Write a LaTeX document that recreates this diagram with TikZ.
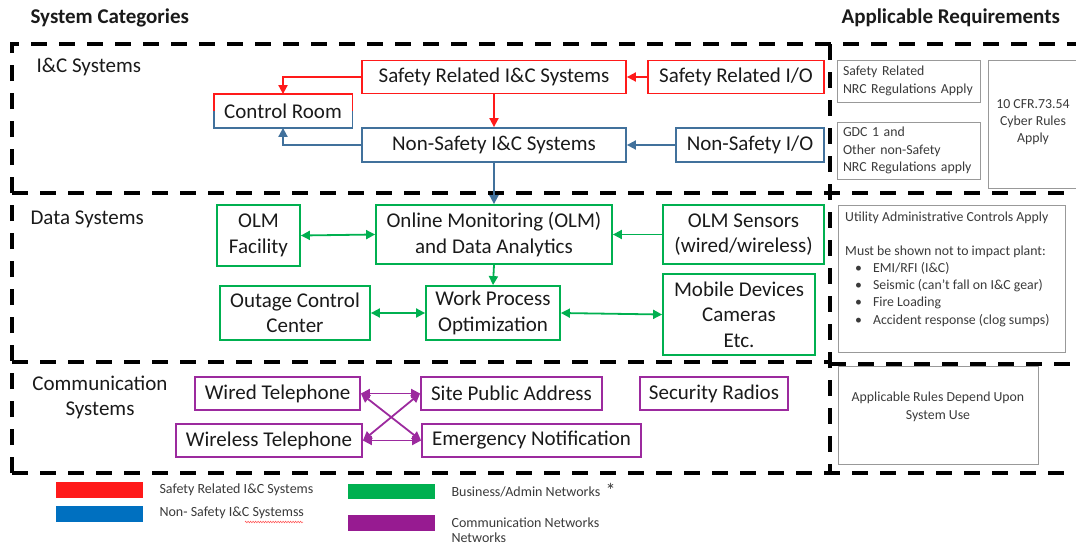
\documentclass[tikz,border=0pt]{standalone}
\usepackage{fontspec}
\setmainfont{Carlito}
\usetikzlibrary{arrows.meta,decorations.pathmorphing}
\definecolor{sred}{HTML}{FF1A1A}
\definecolor{nsblue}{HTML}{41719C}
\definecolor{bgreen}{HTML}{00B050}
\definecolor{cpurple}{HTML}{9C2A9E}
\definecolor{legblue}{HTML}{0070C0}
\definecolor{legpurple}{HTML}{971B91}
\definecolor{txt}{HTML}{1A1A1A}
\definecolor{softtxt}{HTML}{3A3A3A}
\tikzset{
  sysbox/.style={draw, line width=1.8pt, inner sep=0pt, align=center,
    text=txt, font=\fontsize{21}{25.5}\selectfont},
  redbox/.style={sysbox, draw=sred},
  bluebox/.style={sysbox, draw=nsblue},
  greenbox/.style={sysbox, draw=bgreen},
  purplebox/.style={sysbox, draw=cpurple},
  reqbox/.style={draw=gray!80, line width=0.9pt, inner sep=0pt, text=softtxt,
    font=\fontsize{13.8}{17.3}\selectfont},
  reqtext/.style={inner sep=0pt, text=softtxt, font=\fontsize{13.8}{17.3}\selectfont},
  frame/.style={line width=3.8pt, dash pattern=on 16pt off 12pt},
  link/.style={line width=1.8pt, -{Triangle[length=9pt,width=9pt]}},
  dlink/.style={line width=1.8pt, {Triangle[length=9pt,width=9pt]}-{Triangle[length=9pt,width=9pt]}},
  heading/.style={font=\fontsize{21}{24}\selectfont\bfseries, text=txt, anchor=west},
  section/.style={font=\fontsize{21}{25}\selectfont, text=txt},
  legtext/.style={font=\fontsize{14}{17}\selectfont, text=softtxt, anchor=west},
}
\begin{document}
\begin{tikzpicture}[x=1pt,y=-1pt]
\useasboundingbox (0,0) rectangle (1076,546);

% headings
\node[heading] (hcat) at (27,18) {System Categories};
\node[heading] (hreq) at (838,18) {Applicable Requirements};

% dashed frames
\draw[frame] (12,473) -- (12,44) -- (1080,44);
\draw[frame] (12,473) -- (1080,473);
\draw[frame] (830,44) -- (830,473);
\draw[frame] (12,193) -- (1080,193);
\draw[frame] (12,362) -- (830,362);
\draw[frame] (830,364) -- (1080,364);

% section labels
\node[section, anchor=west] (lic) at (33,67) {I\&C Systems};
\node[section, anchor=west] (lds) at (27,219) {Data Systems};
\node[section, align=center] (lcs) at (100,397) {Communication\\Systems};

% I&C systems
\node[redbox, minimum width=264pt, minimum height=33pt] (sric) at (494,77) {Safety Related I\&C Systems};
\node[redbox, minimum width=176pt, minimum height=33pt] (srio) at (736,77) {Safety Related I/O};
\node[sysbox, draw=none, minimum width=137pt, minimum height=32pt] (cr) at (283,111) {Control Room};
\draw[sred, line width=1.8pt] (cr.west) -- (cr.north west) -- (cr.north east) -- (cr.east);
\draw[nsblue, line width=1.8pt] (cr.west) -- (cr.south west) -- (cr.south east) -- (cr.east);
\node[bluebox, minimum width=264pt, minimum height=34pt] (nsic) at (494,145) {Non-Safety I\&C Systems};
\node[bluebox, minimum width=148pt, minimum height=34pt] (nsio) at (750,145) {Non-Safety I/O};

\draw[link, sred] (srio.west) -- (sric.east);
\draw[link, sred] (sric.west) -| (cr.north);
\draw[link, sred] (sric.south) -- (nsic.north);
\draw[link, nsblue] (nsio.west) -- (nsic.east);
\draw[link, nsblue] (nsic.west) -| (cr.south);

% data systems
\node[greenbox, minimum width=83pt, minimum height=61pt] (olmf) at (258.5,235.5) {OLM\\Facility};
\node[greenbox, minimum width=236pt, minimum height=59pt] (olm) at (494,234.5) {Online Monitoring (OLM)\\and Data Analytics};
\node[greenbox, minimum width=161pt, minimum height=59pt] (olms) at (743.5,234.5) {OLM Sensors\\(wired/wireless)};
\node[greenbox, minimum width=150pt, minimum height=54pt] (occ) at (295,313) {Outage Control\\Center};
\node[greenbox, minimum width=134pt, minimum height=54pt] (wpo) at (493,313) {Work Process\\Optimization};
\node[greenbox, minimum width=152pt, minimum height=81pt] (mob) at (739,314.5) {Mobile Devices\\Cameras\\Etc.};

\draw[link, nsblue] (nsic.south) -- (olm.north);
\draw[dlink, bgreen] (olmf.east) -- (olm.west);
\draw[link, bgreen] (olms.west) -- (olm.east);
\draw[link, bgreen] (olm.south) -- (wpo.north);
\draw[dlink, bgreen] (occ.east) -- (wpo.west);
\draw[dlink, bgreen] (wpo.east) -- (mob.west);

% communication systems
\node[purplebox, minimum width=165pt, minimum height=33pt] (wired) at (277.5,393.5) {Wired Telephone};
\node[purplebox, minimum width=181pt, minimum height=33pt] (site) at (511.5,393.5) {Site Public Address};
\node[purplebox, minimum width=148pt, minimum height=33pt] (radio) at (714,393.5) {Security Radios};
\node[purplebox, minimum width=186pt, minimum height=33pt] (wless) at (269,440.5) {Wireless Telephone};
\node[purplebox, minimum width=219pt, minimum height=33pt] (emerg) at (531.5,440.5) {Emergency Notification};

\draw[dlink, cpurple] (wired.east) -- (site.west);
\draw[dlink, cpurple] (wless.east) -- (emerg.west);
\draw[dlink, cpurple] (wired.east) -- (emerg.west);
\draw[dlink, cpurple] (wless.east) -- (site.west);

% applicable requirements
\node[reqbox, minimum width=143pt, minimum height=42pt, align=left, text width=131pt] (rsr) at (908.5,81)
  {Safety Related\\NRC Regulations Apply};
\node[reqbox, minimum width=143pt, minimum height=57pt, align=left, text width=131pt] (rgdc) at (908.5,150.5)
  {GDC 1 and\\Other non-Safety\\NRC Regulations apply};
\node[reqbox, minimum width=100pt, minimum height=128pt, anchor=north west] (rcyb) at (988,60) {};
\node[reqtext, align=center] (tcyb) at (1033,122)
  {10 CFR.73.54\\Cyber Rules\\Apply};
\node[reqbox, minimum width=227pt, minimum height=147pt, anchor=north west] (rutil) at (838,205) {};
\node[reqtext, anchor=north west, align=left] (tutil) at (845,212)
  {Utility Administrative Controls Apply\\[16pt]
   Must be shown not to impact plant:\\
   \hspace*{10pt}\textbullet\hspace{11pt}EMI/RFI (I\&C)\\
   \hspace*{10pt}\textbullet\hspace{11pt}Seismic (can’t fall on I\&C gear)\\
   \hspace*{10pt}\textbullet\hspace{11pt}Fire Loading\\
   \hspace*{10pt}\textbullet\hspace{11pt}Accident response (clog sumps)};
\node[reqbox, minimum width=200pt, minimum height=98pt, anchor=north west] (rrule) at (838,366) {};
\node[reqtext, anchor=north, align=center] (trule) at (938,392)
  {Applicable Rules Depend Upon\\System Use};

% legend
\fill[sred] (56,482) rectangle (143,498);
\fill[legblue] (56,506) rectangle (143,522);
\fill[bgreen] (348,484) rectangle (435,499);
\fill[legpurple] (348,515) rectangle (435,531);
\node[legtext] (lg1) at (156,490) {Safety Related I\&C Systems};
\node[legtext] (lg2) at (156,513) {Non- Safety I\&C Systemss};
\node[legtext] (lg3) at (448,492) {Business/Admin Networks};
\node[legtext, font=\fontsize{20}{22}\selectfont] (lg3s) at (602,490) {*};
\node[legtext, align=left, anchor=north west, font=\fontsize{14}{15.5}\selectfont] (lg4) at (448,514) {Communication Networks\\Networks};
\draw[sred!80, line width=0.5pt, decorate, decoration={zigzag, amplitude=0.8pt, segment length=2.5pt}]
  (245,522) -- (303,522);
\end{tikzpicture}
\end{document}
